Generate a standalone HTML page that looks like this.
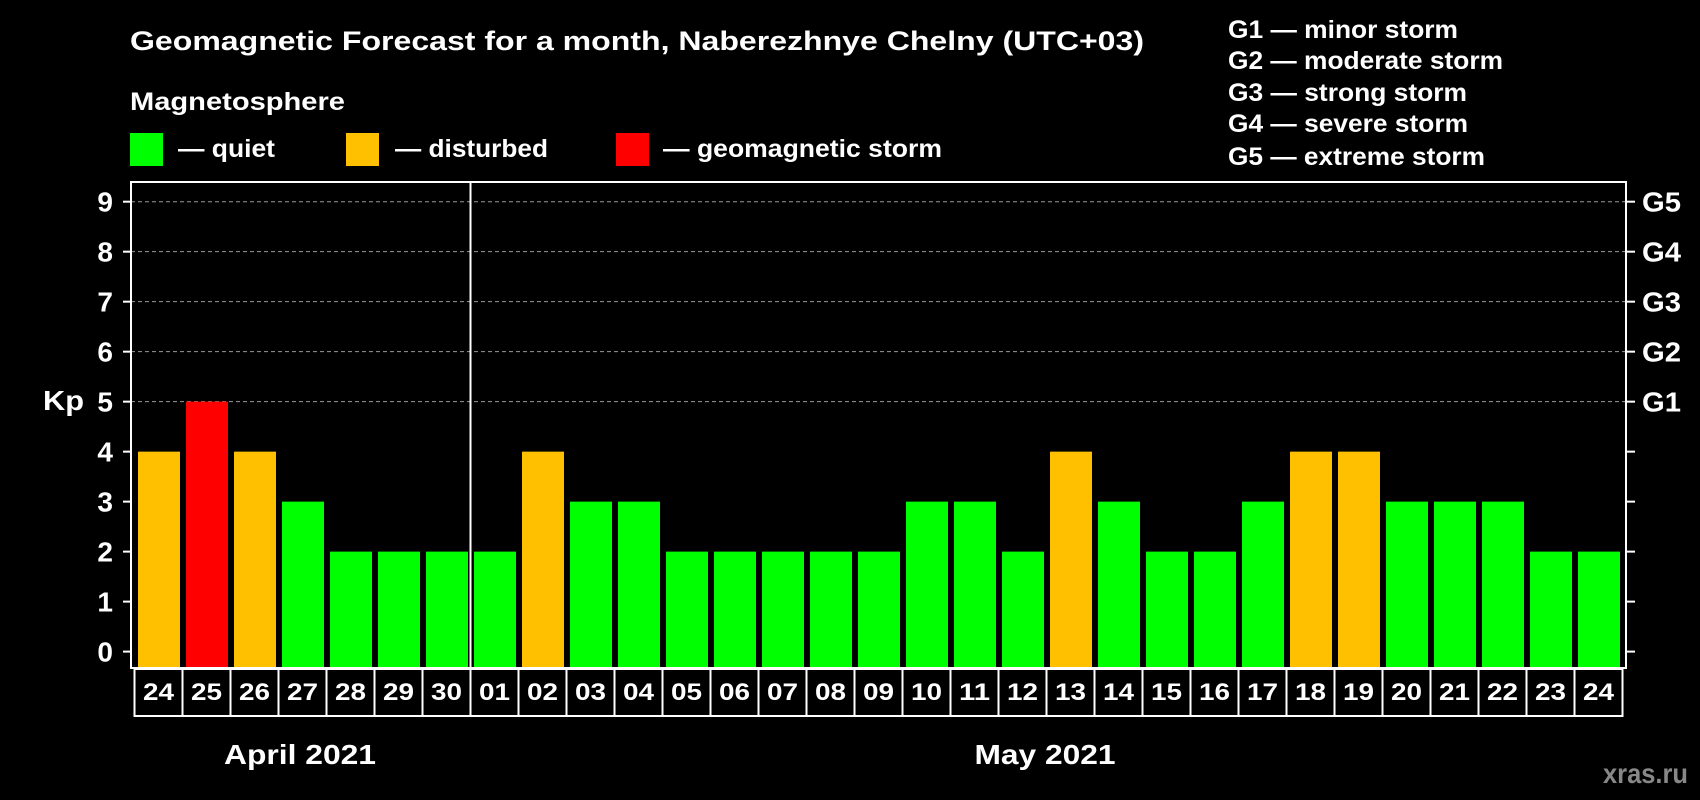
<!DOCTYPE html>
<html><head><meta charset="utf-8"><style>
html,body{margin:0;padding:0;background:#000;}
svg{display:block;font-family:"Liberation Sans",Arial,sans-serif;font-weight:bold;}
</style></head><body>
<svg id="chart" width="1700" height="800" viewBox="0 0 1700 800" xmlns="http://www.w3.org/2000/svg">
<rect width="1700" height="800" fill="#000"/>
<text x="130" y="50" fill="#fff" font-size="27" textLength="1014" lengthAdjust="spacingAndGlyphs">Geomagnetic Forecast for a month, Naberezhnye Chelny (UTC+03)</text>
<text x="130" y="110" fill="#fff" font-size="25" textLength="215" lengthAdjust="spacingAndGlyphs">Magnetosphere</text>
<g><rect x="130" y="133" width="33" height="33" fill="#00ff00"/><text x="178" y="157" fill="#fff" font-size="25" textLength="97" lengthAdjust="spacingAndGlyphs">— quiet</text></g>
<g><rect x="346" y="133" width="33" height="33" fill="#ffc000"/><text x="395" y="157" fill="#fff" font-size="25" textLength="153" lengthAdjust="spacingAndGlyphs">— disturbed</text></g>
<g><rect x="616" y="133" width="33" height="33" fill="#ff0000"/><text x="663" y="157" fill="#fff" font-size="25" textLength="279" lengthAdjust="spacingAndGlyphs">— geomagnetic storm</text></g>
<g fill="#fff" font-size="25">
<text x="1228" y="38" textLength="230" lengthAdjust="spacingAndGlyphs">G1 — minor storm</text>
<text x="1228" y="69" textLength="275" lengthAdjust="spacingAndGlyphs">G2 — moderate storm</text>
<text x="1228" y="101" textLength="239" lengthAdjust="spacingAndGlyphs">G3 — strong storm</text>
<text x="1228" y="132" textLength="240" lengthAdjust="spacingAndGlyphs">G4 — severe storm</text>
<text x="1228" y="165" textLength="257" lengthAdjust="spacingAndGlyphs">G5 — extreme storm</text>
</g>
<g id="grid"></g>
<g id="bars"></g>
<rect x="131" y="182" width="1495" height="486" fill="none" stroke="#fff" stroke-width="2"/>
<line x1="470.5" y1="182" x2="470.5" y2="668" stroke="#fff" stroke-width="2"/>
<g id="yaxis"></g>
<g id="xaxis"></g>
<text x="43" y="410" fill="#fff" font-size="28" textLength="41" lengthAdjust="spacingAndGlyphs">Kp</text>
<text x="300" y="764" fill="#fff" font-size="28" text-anchor="middle" textLength="152" lengthAdjust="spacingAndGlyphs">April 2021</text>
<text x="1045" y="764" fill="#fff" font-size="28" text-anchor="middle" textLength="141" lengthAdjust="spacingAndGlyphs">May 2021</text>
<text x="1688" y="783" fill="#888" font-size="28" text-anchor="end" textLength="85" lengthAdjust="spacingAndGlyphs">xras.ru</text>
</svg>
<script>
const days = ["24","25","26","27","28","29","30","01","02","03","04","05","06","07","08","09","10","11","12","13","14","15","16","17","18","19","20","21","22","23","24"];
const kpValues = [4,5,4,3,2,2,2,2,4,3,3,2,2,2,2,2,3,3,2,4,3,2,2,3,4,4,3,3,3,2,2];
const yTicks = [0,1,2,3,4,5,6,7,8,9];
const gLabels = ["","","","","","G1","G2","G3","G4","G5"];
const NS="http://www.w3.org/2000/svg";
const x0=134.5, pitch=48, barW=42, y0=651.6, unit=49.99, plotBottom=667;
const yS=v=>y0-v*unit;
const xS=i=>x0+i*pitch;
function mk(t,a,p){const e=document.createElementNS(NS,t);for(const k in a)e.setAttribute(k,a[k]);p.appendChild(e);return e;}
const grid=document.getElementById('grid'),bars=document.getElementById('bars'),ya=document.getElementById('yaxis'),xa=document.getElementById('xaxis');
yTicks.forEach(v=>{
 const y=yS(v);
 if(v>=5){const g=mk('line',{x1:131,x2:1626,y1:y,y2:y,stroke:'#999','stroke-dasharray':'4,3','stroke-width':1},grid);
 
 }
 const t1=mk('line',{x1:123,x2:131,y1:y,y2:y,stroke:'#fff','stroke-width':2},ya);
 
 
 const t2=mk('line',{x1:1626,x2:1635,y1:y,y2:y,stroke:'#fff','stroke-width':2},ya);
 
 
 const l=mk('text',{x:113,y:y+10,fill:'#fff','font-size':28,'text-anchor':'end'},ya);l.textContent=v;
 
 
 if(gLabels[v]){const g=mk('text',{x:1642,y:y+10,fill:'#fff','font-size':28,textLength:39,lengthAdjust:'spacingAndGlyphs'},ya);g.textContent=gLabels[v];
 
 }
});
kpValues.forEach((v,i)=>{
 const c=v>=5?'#ff0000':(v>=4?'#ffc000':'#00ff00');
 const top=yS(v);
 const b=mk('rect',{x:xS(i)+3.5,y:top,width:barW,height:plotBottom-top,fill:c},bars);
 
 
});
days.forEach((d,i)=>{
 const r=mk('rect',{x:xS(i),y:669,width:pitch,height:47,fill:'none',stroke:'#fff','stroke-width':2},xa);
 
 
 const t=mk('text',{x:xS(i)+pitch/2,y:700,fill:'#fff','font-size':24,'text-anchor':'middle',textLength:31,lengthAdjust:'spacingAndGlyphs'},xa);t.textContent=d;
 
 
});
</script>
</body></html>
